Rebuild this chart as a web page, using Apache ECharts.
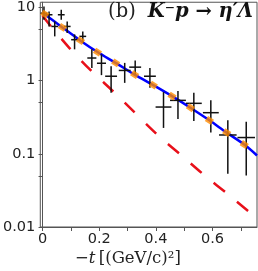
<!DOCTYPE html>
<html>
<head>
<meta charset="utf-8">
<script src="https://cdn.jsdelivr.net/npm/echarts@6/dist/echarts.min.js"></script>
<style>html,body{margin:0;padding:0;background:#fff}#c{width:258px;height:271px}</style>
</head>
<body>
<div id="c"></div>
<script>
// Experimental data (black crosses)
const tData = [0.005, 0.023, 0.043, 0.066, 0.087, 0.113, 0.142, 0.174, 0.208, 0.242, 0.290, 0.327, 0.379, 0.427, 0.478, 0.534, 0.594, 0.654, 0.719];
const yData = [8.36, 7.96, 5.51, 7.96, 5.51, 3.63, 4.03, 2.04, 1.73, 1.15, 1.38, 1.53, 1.15, 0.436, 0.538, 0.490, 0.365, 0.181, 0.167];
const yHi   = [10.3, 8.82, 6.45, 9.31, 6.45, 4.29, 4.71, 2.68, 2.29, 1.57, 1.75, 1.88, 1.49, 0.698, 0.720, 0.683, 0.538, 0.287, 0.275];
const yLo   = [6.80, 5.51, 4.03, 6.80, 4.47, 2.68, 3.27, 1.49, 1.19, 0.683, 0.933, 1.21, 0.798, 0.226, 0.299, 0.281, 0.195, 0.0534, 0.0507];
const tErr  = [0.012, 0.012, 0.012, 0.012, 0.012, 0.012, 0.012, 0.016, 0.016, 0.021, 0.021, 0.021, 0.021, 0.028, 0.028, 0.028, 0.028, 0.031, 0.031];

// Model curves
const tBlue = [0, 0.070, 0.134, 0.194, 0.258, 0.325, 0.391, 0.457, 0.522, 0.589, 0.650, 0.712, 0.757];
const yBlue = [8.5, 5.34, 3.52, 2.46, 1.75, 1.21, 0.869, 0.615, 0.427, 0.287, 0.195, 0.134, 0.095];
const tOrange = [0.008, 0.070, 0.134, 0.194, 0.258, 0.325, 0.391, 0.457, 0.522, 0.589, 0.650, 0.712];
const yOrange = [8.11, 5.34, 3.52, 2.46, 1.75, 1.21, 0.869, 0.615, 0.427, 0.287, 0.195, 0.134];
const tRed = [0, 0.020, 0.095, 0.173, 0.252, 0.409, 0.491, 0.572, 0.659, 0.737, 0.757];
const yRed = [7.8, 6.15, 2.79, 1.35, 0.698, 0.177, 0.0948, 0.0507, 0.0271, 0.0153, 0.0138];

// Axis ticks
const xTicks = [0, 0.1, 0.2, 0.3, 0.4, 0.5, 0.6, 0.7];
const xLabels = [0, 0.2, 0.4, 0.6];
const yTicks = [0.01, 0.05, 0.1, 0.5, 1, 5, 10];
const yLabels = [0.01, 0.1, 1, 10];

const zip = (a, b) => a.map((v, i) => [v, b[i]]);
const errData = tData.map((t, i) => [t, yData[i], yLo[i], yHi[i], tErr[i]]);

const chart = echarts.init(document.getElementById('c'), null, {renderer: 'canvas'});
const axisCol = '#555';
chart.setOption({
  animation: false,
  grid: {left: 37, right: 1, top: 1, bottom: 44, show: true, borderColor: axisCol, borderWidth: 1},
  xAxis: {
    type: 'value', min: -0.008, max: 0.757,
    axisLine: {show: true, lineStyle: {color: axisCol}},
    axisTick: {show: true, length: 4, customValues: xTicks, lineStyle: {color: axisCol}},
    axisLabel: {customValues: xLabels, color: '#222', fontFamily: 'DejaVu Sans', fontSize: 14.5, margin: 5,
      formatter: v => String(Number(v.toPrecision(3)))},
    splitLine: {show: false}
  },
  yAxis: {
    type: 'log', logBase: 10, min: 0.01, max: 11.8,
    axisLine: {show: true, lineStyle: {color: axisCol}},
    axisTick: {show: true, length: 4, customValues: yTicks, lineStyle: {color: axisCol}},
    axisLabel: {customValues: yLabels, color: '#222', fontFamily: 'DejaVu Sans', fontSize: 14.5, margin: 5,
      formatter: v => String(Number(Number(v).toPrecision(3)))},
    splitLine: {show: false}
  },
  graphic: [
    {type: 'text', left: 75, top: 250, style: {
      text: '{i|−t} {n|[(GeV/c)²]}',
      rich: {
        i: {fontFamily: 'DejaVu Serif', fontStyle: 'italic', fontSize: 16.5, fill: '#222'},
        n: {fontFamily: 'DejaVu Serif', fontSize: 16.5, fill: '#222'}
      }
    }},
    {type: 'text', right: 5, top: 2, style: {
      text: '{n|(b)}{b|K⁻p → η′Λ}',
      rich: {
        n: {fontFamily: 'DejaVu Serif', fontSize: 19.5, fill: '#222', padding: [0, 12, 0, 0]},
        b: {fontFamily: 'DejaVu Serif', fontStyle: 'italic', fontWeight: 'bold', fontSize: 19.5, fill: '#111'}
      }
    }}
  ],
  series: [
    {type: 'line', data: zip(tRed, yRed), smooth: 0.3, showSymbol: false, z: 2,
      lineStyle: {color: '#e8101a', width: 2.5, type: [14, 16], dashOffset: 0}},
    {type: 'line', data: zip(tBlue, yBlue), smooth: 0.3, showSymbol: false, z: 3,
      lineStyle: {color: '#0000ff', width: 2.5}},
    {type: 'custom', z: 4, data: errData, encode: {x: 0, y: 1},
      renderItem: (params, api) => {
        const t = api.value(0), v = api.value(1), lo = api.value(2), hi = api.value(3), dt = api.value(4);
        const a = api.coord([t, hi]), b = api.coord([t, lo]);
        const l = api.coord([t - dt, v]), r = api.coord([t + dt, v]);
        const st = {stroke: '#111', lineWidth: 1.5};
        return {type: 'group', children: [
          {type: 'line', shape: {x1: a[0], y1: a[1], x2: b[0], y2: b[1]}, style: st},
          {type: 'line', shape: {x1: l[0], y1: l[1], x2: r[0], y2: r[1]}, style: st}
        ]};
      }},
    {type: 'scatter', data: zip(tOrange, yOrange), z: 5, symbol: 'rect', symbolSize: [7, 6], symbolRotate: -33,
      itemStyle: {color: '#ff8c00'}}
  ]
});
</script>
</body>
</html>
